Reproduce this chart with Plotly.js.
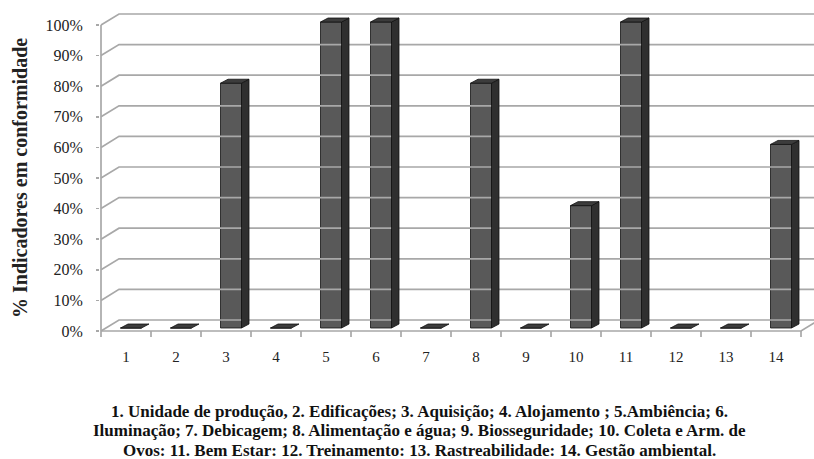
<!DOCTYPE html>
<html>
<head>
<meta charset="utf-8">
<script src="https://cdn.plot.ly/plotly-3.0.1.min.js"></script>
<style>
  html, body { margin: 0; padding: 0; background: #ffffff; }
  #chart { width: 814px; height: 459px; }
</style>
</head>
<body>
<div id="chart"></div>
<script>
// Indicator groups (1..14) and share of indicators in conformity
const categories = [1, 2, 3, 4, 5, 6, 7, 8, 9, 10, 11, 12, 13, 14];
const categoryLabels = ['1', '2', '3', '4', '5', '6', '7', '8', '9', '10', '11', '12', '13', '14'];
const conformity = [0, 0, 0.8, 0, 1.0, 1.0, 0, 0.8, 0, 0.4, 1.0, 0, 0, 0.6];
const yTicks = [0, 0.1, 0.2, 0.3, 0.4, 0.5, 0.6, 0.7, 0.8, 0.9, 1.0];

const captionLines = [
  '1. Unidade de produção, 2. Edificações; 3. Aquisição; 4. Alojamento ; 5.Ambiência; 6.',
  'Iluminação; 7. Debicagem; 8. Alimentação e água; 9. Biosseguridade; 10. Coleta e Arm. de',
  'Ovos: 11. Bem Estar: 12. Treinamento: 13. Rastreabilidade: 14. Gestão ambiental.'
];

// 3-D look: oblique offsets expressed in axis units
const wallDx = 0.36, wallDy = 0.036;     // back wall depth
const barShiftX = 0.10, barBase = 0.0098; // bar row sits slightly behind the front edge
const barHalf = 0.21;                     // half width of the bar front face
const barDx = 0.15, barDy = 0.013;        // bar depth
const xLeft = 0.5, xRight = categories.length + 0.5;

const gridColor = '#a8a8a8';
const traces = [];

// Walls and gridlines: left wall diagonal + back wall horizontal line at each tick
(function () {
  const gx = [], gy = [];
  yTicks.forEach(v => {
    gx.push(xLeft, xLeft + wallDx, xRight + wallDx, null);
    gy.push(v, v + wallDy, v + wallDy, null);
  });
  // floor: front edge and right diagonal
  gx.push(xLeft, xRight, xRight + wallDx, null);
  gy.push(0, 0, wallDy, null);
  // front vertical axis edge
  gx.push(xLeft, xLeft, null);
  gy.push(0, yTicks[yTicks.length - 1], null);
  // category boundary ticks under the floor edge
  for (let i = 0; i <= categories.length; i++) {
    gx.push(xLeft + i, xLeft + i, null);
    gy.push(0, -0.02, null);
  }
  traces.push({
    type: 'scatter', mode: 'lines', x: gx, y: gy,
    line: { color: gridColor, width: 1.7 }, hoverinfo: 'skip', showlegend: false
  });
})();

// Bar front faces
traces.push({
  type: 'bar',
  x: categories.map(c => c + barShiftX),
  y: conformity,
  base: barBase,
  width: barHalf * 2,
  marker: { color: '#595959', line: { color: '#111111', width: 0.8 } },
  hoverinfo: 'skip', showlegend: false
});

// Bar side and top faces
(function () {
  const sx = [], sy = [], tx = [], ty = [];
  categories.forEach((c, i) => {
    const v = conformity[i];
    const l = c + barShiftX - barHalf, r = c + barShiftX + barHalf;
    const b = barBase, t = barBase + v;
    if (v > 0) {
      sx.push(r, r, r + barDx, r + barDx, r, null);
      sy.push(b, t, t + barDy, b + barDy, b, null);
    }
    tx.push(l, r, r + barDx, l + barDx, l, null);
    ty.push(t, t, t + barDy, t + barDy, t, null);
  });
  traces.push({
    type: 'scatter', mode: 'lines', x: sx, y: sy, fill: 'toself',
    fillcolor: '#2f2f2f', line: { color: '#111111', width: 0.8 },
    hoverinfo: 'skip', showlegend: false
  });
  traces.push({
    type: 'scatter', mode: 'lines', x: tx, y: ty, fill: 'toself',
    fillcolor: '#3c3c3c', line: { color: '#111111', width: 0.8 },
    hoverinfo: 'skip', showlegend: false
  });
})();

const serif = '"Liberation Serif", "Times New Roman", serif';

// Caption lines below the chart, one annotation per line
const captionY = [-0.2195, -0.2774, -0.3354];
const captionAnnotations = captionLines.map((line, i) => ({
  text: '<b>' + line + '</b>',
  xref: 'paper', yref: 'paper', x: 0.447, y: captionY[i],
  xanchor: 'center', yanchor: 'middle', showarrow: false,
  font: { family: serif, size: 17, color: '#111111' }
}));

const layout = {
  width: 814, height: 459,
  margin: { l: 100, r: 0, t: 12, b: 119 },
  paper_bgcolor: '#ffffff', plot_bgcolor: 'rgba(0,0,0,0)',
  showlegend: false,
  xaxis: {
    range: [0.48, 14.76],
    showgrid: false, zeroline: false, showline: false,
    tickvals: categories, ticktext: categoryLabels,
    ticks: '', ticklabelstandoff: 6,
    tickfont: { family: serif, size: 15, color: '#222222' }
  },
  yaxis: {
    range: [-0.0294, 1.0425],
    showgrid: false, zeroline: false, showline: false,
    tickvals: yTicks, tickformat: '.0%',
    ticks: 'outside', ticklen: 3, tickcolor: gridColor, tickwidth: 1.7,
    ticklabelstandoff: 10,
    tickfont: { family: serif, size: 16, color: '#222222' }
  },
  annotations: [
    {
      text: '<b>% Indicadores em conformidade</b>',
      xref: 'paper', yref: 'paper', x: -0.112, y: 0.494,
      xanchor: 'center', yanchor: 'middle', textangle: -90, showarrow: false,
      font: { family: serif, size: 20, color: '#222222' }
    }
  ].concat(captionAnnotations)
};

Plotly.newPlot('chart', traces, layout, { staticPlot: true, displayModeBar: false });
</script>
</body>
</html>
